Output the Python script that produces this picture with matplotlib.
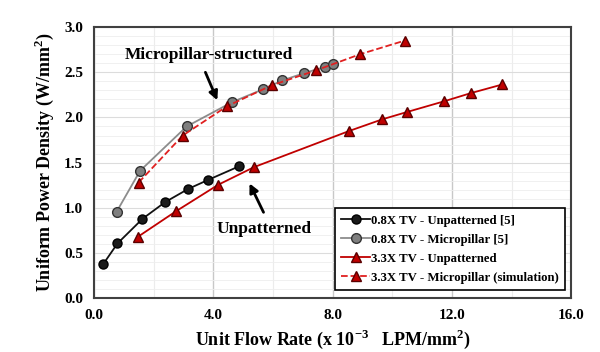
import numpy as np
import matplotlib.pyplot as plt
from matplotlib.ticker import MultipleLocator, FormatStrFormatter

plt.rcParams['font.family'] = ['Liberation Serif', 'DejaVu Serif']
plt.rcParams['font.weight'] = 'bold'
plt.rcParams['mathtext.fontset'] = 'custom'
plt.rcParams['mathtext.rm'] = 'Liberation Serif:bold'
plt.rcParams['mathtext.bf'] = 'Liberation Serif:bold'

# 0.8X TV - unpatterned [5]
unp08_x = [0.31, 0.78, 1.62, 2.38, 3.16, 3.83, 4.85]
unp08_y = [0.38, 0.605, 0.878, 1.063, 1.21, 1.31, 1.458]

# 0.8X TV - micropillar [5]
mp08_x = [0.75, 1.54, 3.10, 4.63, 5.65, 6.31, 7.04, 7.74, 8.01]
mp08_y = [0.955, 1.41, 1.90, 2.17, 2.31, 2.41, 2.49, 2.56, 2.59]

# 3.3X TV - unpatterned
unp33_x = [1.47, 2.75, 4.16, 5.36, 8.55, 9.67, 10.49, 11.75, 12.64, 13.69]
unp33_y = [0.68, 0.963, 1.255, 1.45, 1.85, 1.98, 2.06, 2.18, 2.27, 2.365]

# 3.3X TV - micropillar (simulation)
mp33_x = [1.49, 2.97, 4.46, 5.95, 7.43, 8.92, 10.41]
mp33_y = [1.28, 1.80, 2.125, 2.355, 2.52, 2.70, 2.85]

red = '#c00000'
red_edge = '#5a0000'

fig = plt.figure(figsize=(6.0, 3.52), dpi=100)
ax = fig.add_axes([0.157, 0.153, 0.795, 0.77])

ax.plot(unp08_x, unp08_y, '-o', color='#111111', lw=1.3, ms=6.5,
        mfc='#1a1a1a', mec='#000000', label='0.8X TV - Unpatterned [5]', zorder=3)
ax.plot(mp08_x, mp08_y, '-o', color='#8c8c8c', lw=1.3, ms=7,
        mfc='#7f7f7f', mec='#333333', label='0.8X TV - Micropillar [5]', zorder=3)
ax.plot(unp33_x, unp33_y, '-^', color=red, lw=1.3, ms=7,
        mfc=red, mec=red_edge, label='3.3X TV - Unpatterned', zorder=4)
ax.plot(mp33_x, mp33_y, '--^', color='#e02020', lw=1.3, ms=7,
        mfc=red, mec=red_edge, label='3.3X TV - Micropillar (simulation)', zorder=4)

ax.set_xlim(0, 16)
ax.set_ylim(0, 3.0)
ax.xaxis.set_major_locator(MultipleLocator(4))
ax.xaxis.set_minor_locator(MultipleLocator(2))
ax.yaxis.set_major_locator(MultipleLocator(0.5))
ax.yaxis.set_minor_locator(MultipleLocator(0.1))
ax.xaxis.set_major_formatter(FormatStrFormatter('%.1f'))
ax.yaxis.set_major_formatter(FormatStrFormatter('%.1f'))
ax.grid(which='major', axis='x', color='#c8c8c8', lw=1.0)
ax.grid(which='minor', axis='x', color='#ececec', lw=0.8)
ax.grid(which='major', axis='y', color='#dcdcdc', lw=0.8)
ax.grid(which='minor', axis='y', color='#eeeeee', lw=0.6)
ax.set_axisbelow(True)
ax.tick_params(which='both', length=0, labelsize=11, pad=8)
for lab in ax.get_xticklabels() + ax.get_yticklabels():
    lab.set_fontweight('bold')
for s in ax.spines.values():
    s.set_color('#404040')
    s.set_linewidth(1.5)

ax.set_xlabel(r'Unit Flow Rate (x 10$^{-3}$   LPM/mm$^{2}$)', fontsize=13,
              fontweight='bold', labelpad=4)
ax.set_ylabel(r'Uniform Power Density (W/mm$^{2}$)', fontsize=13,
              fontweight='bold', labelpad=6)

arrow = dict(arrowstyle='-|>', color='black', lw=2, mutation_scale=13,
             shrinkA=0, shrinkB=0)
ax.annotate('', xy=(4.13, 2.19), xytext=(3.73, 2.50), arrowprops=arrow)
ax.text(3.85, 2.69, 'Micropillar-structured', fontsize=12.5, fontweight='bold',
        ha='center', va='center')
ax.annotate('', xy=(5.21, 1.27), xytext=(5.68, 0.95), arrowprops=arrow)
ax.text(5.7, 0.76, 'Unpatterned', fontsize=12.5, fontweight='bold',
        ha='center', va='center')

leg = ax.legend(loc='lower right', bbox_to_anchor=(0.987, 0.03), borderaxespad=0,
                frameon=True, fancybox=False, handlelength=2.2,
                handletextpad=0.1, borderpad=0.5, labelspacing=0.55,
                prop={'family': 'Liberation Serif', 'weight': 'bold', 'size': 9.2})
leg.get_frame().set_edgecolor('black')
leg.get_frame().set_linewidth(1.2)
leg.get_frame().set_alpha(1)

fig.savefig('out.png', dpi=100)
